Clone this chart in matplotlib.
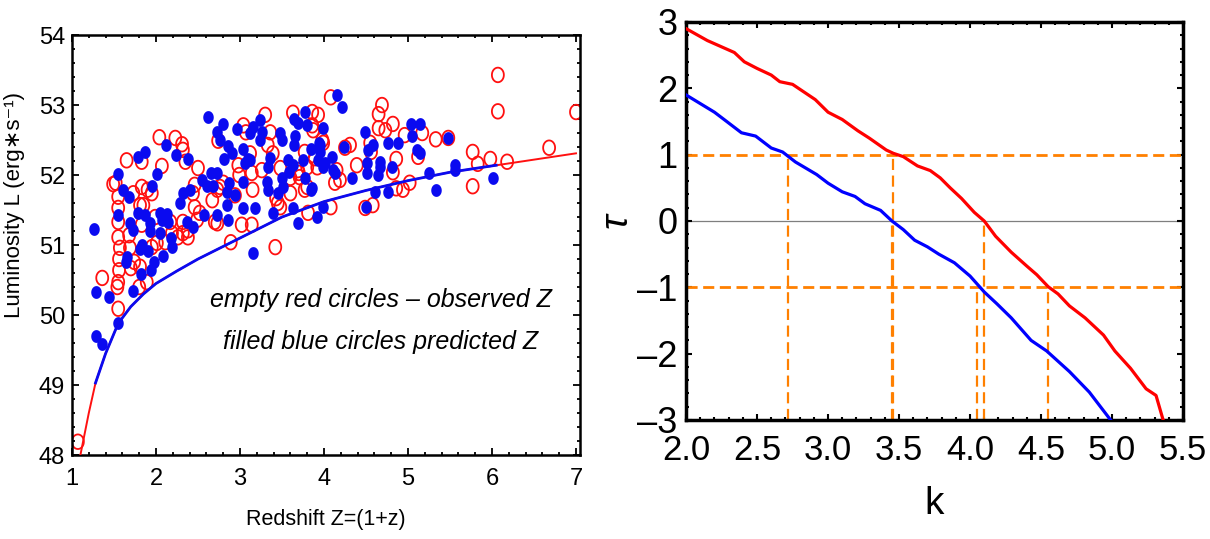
import numpy as np
import matplotlib
matplotlib.use("Agg")
import matplotlib.pyplot as plt
from matplotlib.path import Path
from matplotlib.ticker import MultipleLocator

FAMILY = ["Liberation Sans", "DejaVu Sans"]
plt.rcParams["font.family"] = FAMILY

# ---------------- Luminosity vs redshift: GRB sample ----------------
z_observed = [1.07, 1.36, 1.54, 1.55, 1.55, 1.56, 1.56, 1.57, 1.55, 1.68, 1.69, 1.70, 1.74,
              1.81, 1.89, 1.80, 1.83, 1.85, 1.95, 2.01, 2.11, 2.19, 2.17, 2.26, 2.32, 2.38,
              2.38, 2.32, 2.46, 2.52, 2.70, 2.89, 3.02, 1.49, 1.52, 1.55, 1.55, 1.55, 1.65,
              1.83, 1.83, 1.90, 1.95, 1.73, 1.81, 1.99, 2.04, 2.23, 2.31, 2.32, 2.07, 2.35,
              2.50, 2.46, 2.44, 2.49, 2.73, 2.67, 2.73, 2.76, 2.80, 2.94, 2.74, 2.98, 2.99,
              3.04, 3.07, 3.14, 3.26, 3.30, 3.36, 3.33, 3.39, 3.12, 3.48, 3.42, 3.45, 3.14,
              3.48, 3.43, 3.60, 3.60, 3.63, 3.69, 3.71, 3.80, 3.86, 3.93, 3.86, 3.87, 3.77,
              3.98, 3.92, 3.80, 3.81, 3.70, 4.08, 3.99, 3.89, 3.77, 4.15, 4.19, 4.13, 4.25,
              4.31, 4.39, 4.08, 4.69, 4.65, 4.65, 4.73, 4.82, 4.55, 4.56, 4.86, 4.96, 5.17,
              5.12, 5.33, 5.48, 4.86, 4.94, 5.02, 4.49, 4.58, 4.82, 5.77, 5.83, 5.98, 6.18,
              5.77, 6.07, 6.07, 6.68, 7.00, 3.15]
L_observed = [48.19, 50.53, 50.40, 50.09, 50.47, 50.64, 50.80, 50.96, 51.11, 51.14, 50.96,
              50.67, 50.76, 50.69, 50.47, 50.40, 51.29, 51.57, 50.97, 51.03, 51.04, 51.17,
              51.33, 51.11, 51.17, 51.11, 51.21, 51.33, 51.54, 51.46, 51.33, 51.04, 51.29,
              51.87, 51.89, 51.69, 51.53, 51.33, 52.21, 52.19, 51.83, 51.79, 51.74, 51.74,
              51.57, 51.40, 52.54, 52.53, 52.44, 52.36, 52.13, 52.19, 52.10, 51.86, 51.74,
              51.36, 51.79, 51.64, 51.31, 51.83, 51.89, 51.71, 52.49, 52.14, 52.00, 52.71,
              52.61, 52.03, 52.07, 52.86, 52.61, 52.43, 52.31, 52.31, 52.10, 50.97, 51.60,
              51.29, 51.54, 51.67, 51.96, 51.74, 52.89, 52.07, 51.97, 52.11, 52.90, 52.86,
              52.71, 52.64, 52.33, 52.50, 52.11, 51.83, 51.46, 52.03, 53.11, 52.46, 52.24,
              51.79, 52.07, 51.93, 51.89, 52.39, 52.43, 52.14, 51.54, 53.00, 52.87, 52.67,
              52.64, 52.73, 52.46, 52.33, 52.23, 52.57, 52.60, 52.26, 52.51, 52.53, 51.81,
              51.79, 51.89, 51.53, 51.57, 52.04, 52.33, 52.16, 52.23, 52.19, 51.84, 52.91,
              53.43, 52.39, 52.90, 51.79]

z_predicted = [1.26, 1.29, 1.29, 1.36, 1.44, 1.55, 1.55, 1.61, 1.68, 1.55, 1.69, 1.73, 1.79,
               1.87, 1.93, 2.05, 2.13, 2.14, 2.07, 1.95, 2.01, 1.79, 1.87, 2.12, 2.24, 2.38,
               1.65, 1.64, 1.81, 1.83, 1.90, 1.73, 1.82, 1.94, 1.98, 2.08, 2.19, 2.18, 2.05,
               1.93, 2.29, 2.37, 2.44, 2.32, 2.40, 2.55, 2.65, 2.73, 2.61, 2.68, 2.57, 2.73,
               2.85, 2.86, 3.04, 2.87, 2.85, 2.94, 2.62, 2.80, 2.73, 2.96, 2.76, 2.86, 2.90,
               2.81, 3.04, 3.06, 3.10, 3.04, 3.15, 3.15, 3.24, 3.26, 3.24, 3.12, 3.12, 3.36,
               3.33, 3.32, 3.33, 3.48, 3.50, 3.50, 3.51, 3.45, 3.57, 3.63, 3.58, 3.64, 3.69,
               3.77, 3.80, 3.65, 3.64, 3.75, 3.77, 3.85, 3.95, 3.95, 3.93, 3.99, 3.99, 3.86,
               4.10, 4.11, 4.13, 4.15, 4.21, 4.24, 4.33, 4.49, 4.58, 4.52, 4.51, 4.51, 4.67,
               4.67, 4.64, 4.61, 4.50, 4.76, 4.88, 4.81, 4.76, 5.04, 5.14, 5.05, 5.11, 5.14,
               5.25, 5.33, 5.48, 5.56, 5.56, 6.01, 3.92, 3.99, 3.69, 3.39, 3.63, 3.18, 3.85,
               3.94, 4.01]
L_predicted = [51.23, 50.33, 49.70, 49.59, 50.26, 49.89, 52.01, 51.79, 51.69, 51.43, 51.31,
               51.21, 51.46, 51.43, 51.31, 51.46, 51.44, 51.33, 51.36, 51.84, 52.01, 52.26,
               52.33, 52.43, 52.29, 52.23, 50.83, 50.76, 50.94, 51.00, 50.91, 50.34, 50.59,
               50.64, 50.76, 50.84, 50.97, 51.10, 51.17, 51.20, 51.60, 51.33, 51.26, 51.74,
               51.79, 51.93, 52.03, 52.03, 51.84, 51.84, 51.43, 51.43, 51.57, 51.36, 51.53,
               51.89, 51.76, 51.71, 52.83, 52.73, 52.61, 52.66, 52.50, 52.41, 52.31, 52.23,
               52.37, 52.17, 52.23, 51.90, 50.89, 52.69, 52.79, 52.61, 52.50, 52.60, 52.21,
               52.24, 52.11, 51.90, 51.79, 52.60, 52.50, 51.96, 51.83, 51.74, 52.21, 52.14,
               52.04, 52.80, 52.74, 52.90, 52.71, 52.56, 52.43, 52.21, 51.96, 52.37, 52.43,
               52.33, 52.21, 52.11, 52.67, 51.81, 52.26, 52.07, 52.03, 53.14, 52.97, 52.40,
               51.96, 52.61, 52.43, 52.36, 52.17, 52.03, 52.19, 52.11, 52.00, 51.76, 51.54,
               52.46, 52.46, 52.11, 51.76, 52.73, 52.73, 52.56, 52.36, 52.31, 52.03, 51.79,
               52.53, 52.14, 52.07, 51.96, 51.40, 51.54, 51.31, 51.46, 51.53, 51.53, 51.79,
               52.46, 52.17]

# Flux-limit threshold curves
z_limit_obs = [1.10, 1.15, 1.20, 1.28, 1.40, 1.55, 1.70, 1.85, 2.00, 2.25, 2.50, 2.75, 3.00,
               3.50, 4.00, 4.50, 5.00, 5.50, 6.00, 6.50, 7.00]
L_limit_obs = [48.00, 48.30, 48.60, 49.03, 49.45, 49.88, 50.12, 50.30, 50.45, 50.63, 50.80,
               50.95, 51.10, 51.40, 51.62, 51.78, 51.92, 52.04, 52.13, 52.22, 52.31]
z_limit_pred = [1.28, 1.40, 1.55, 1.70, 1.85, 2.00, 2.25, 2.50, 2.75, 3.00, 3.50, 4.00, 4.50,
                5.00, 5.50, 6.05]
L_limit_pred = [49.03, 49.45, 49.88, 50.12, 50.30, 50.45, 50.63, 50.80, 50.95, 51.10, 51.40,
                51.62, 51.78, 51.92, 52.04, 52.14]

# ---------------- Kendall tau statistic vs k ----------------
k_obs = [2.00, 2.15, 2.34, 2.41, 2.50, 2.60, 2.66, 2.75, 2.91, 3.00, 3.10, 3.21, 3.29, 3.41,
         3.46, 3.53, 3.63, 3.72, 3.79, 3.86, 3.94, 4.03, 4.10, 4.18, 4.29, 4.40, 4.47, 4.55,
         4.62, 4.70, 4.81, 4.94, 5.02, 5.13, 5.24, 5.31, 5.36]
tau_obs = [2.90, 2.72, 2.54, 2.40, 2.30, 2.20, 2.10, 2.06, 1.83, 1.64, 1.53, 1.36, 1.25,
           1.07, 1.02, 0.97, 0.83, 0.76, 0.65, 0.50, 0.34, 0.13, 0.00, -0.23, -0.47, -0.68,
           -0.81, -0.99, -1.10, -1.28, -1.46, -1.72, -1.96, -2.22, -2.53, -2.63, -3.00]
k_pred = [2.00, 2.10, 2.20, 2.28, 2.39, 2.49, 2.60, 2.68, 2.77, 2.92, 3.00, 3.10, 3.19, 3.26,
          3.37, 3.45, 3.53, 3.61, 3.70, 3.78, 3.89, 4.00, 4.10, 4.19, 4.29, 4.43, 4.54, 4.70,
          4.84, 4.99]
tau_pred = [1.90, 1.77, 1.64, 1.51, 1.33, 1.28, 1.10, 1.04, 0.89, 0.70, 0.57, 0.44, 0.37,
            0.26, 0.16, 0.00, -0.13, -0.29, -0.39, -0.50, -0.63, -0.83, -1.07, -1.25, -1.46,
            -1.80, -1.96, -2.27, -2.58, -3.00]

tau_levels = [1, -1]
k_guides = [2.72, 3.46, 3.45, 4.05, 4.10, 4.55]
tau_guide_tops = [1, 1, 0, -1, 0, -1]

# ---------------- figure ----------------
fig = plt.figure(figsize=(12.1, 5.39), dpi=100)

theta = np.linspace(0, 2 * np.pi, 64)
oval = Path(np.column_stack([0.82 * np.cos(theta), np.sin(theta)]), closed=True)

ax1 = fig.add_axes([0.0595, 0.1558, 0.42, 0.7792])
ax1.scatter(z_observed, L_observed, marker=oval, s=110, facecolors="none",
            edgecolors="#FF1010", linewidths=1.3, zorder=2)
ax1.scatter(z_predicted, L_predicted, marker=oval, s=85, color="#0A0AF0",
            linewidths=0, zorder=3)
ax1.plot(z_limit_obs, L_limit_obs, color="#FF1010", lw=1.4, zorder=4)
ax1.plot(z_limit_pred, L_limit_pred, color="#0A0AF0", lw=2.0, zorder=5)
ax1.set_xlim(1, 7.05)
ax1.set_ylim(48, 54)
ax1.xaxis.set_major_locator(MultipleLocator(1))
ax1.xaxis.set_minor_locator(MultipleLocator(0.2))
ax1.yaxis.set_major_locator(MultipleLocator(1))
ax1.yaxis.set_minor_locator(MultipleLocator(0.2))
ax1.tick_params(which="both", direction="in", top=True, right=True, width=1.3)
ax1.tick_params(axis="y", labelsize=17, pad=5)
ax1.tick_params(axis="x", labelsize=17, pad=9)
ax1.tick_params(which="major", length=5)
ax1.tick_params(which="minor", length=2.5)
for sp in ax1.spines.values():
    sp.set_linewidth(1.8)
ax1.set_xlabel("Redshift Z=(1+z)", fontsize=15.5, labelpad=14)
ax1.set_ylabel("Luminosity L (erg\u2217s\u207b\u00b9)", fontsize=16)
ax1.yaxis.set_label_coords(-0.092, 0.595)
ax1.text(0.608, 0.369, "empty red circles \u2013 observed Z", transform=ax1.transAxes,
         ha="center", va="center", fontsize=18, style="italic")
ax1.text(0.608, 0.269, "filled blue circles predicted Z", transform=ax1.transAxes,
         ha="center", va="center", fontsize=18, style="italic")

ax2 = fig.add_axes([0.567, 0.2208, 0.4107, 0.7384])
ax2.axhline(0, color="#7F7F7F", lw=0.9, zorder=1)
orange = "#FF8000"
for lvl in tau_levels:
    ax2.axhline(lvl, color=orange, lw=2.0, linestyle=(0, (4, 2)), zorder=2)
for kg, top in zip(k_guides, tau_guide_tops):
    ax2.plot([kg, kg], [-3, top], color=orange, lw=1.6, linestyle=(0, (5, 2.5)), zorder=2)
ax2.plot(k_obs, tau_obs, color="#FF0000", lw=2.3, zorder=3)
ax2.plot(k_pred, tau_pred, color="#0000FF", lw=2.3, zorder=3)
ax2.set_xlim(2, 5.5)
ax2.set_ylim(-3, 3)
ax2.xaxis.set_major_locator(MultipleLocator(0.5))
ax2.xaxis.set_minor_locator(MultipleLocator(0.1))
ax2.yaxis.set_major_locator(MultipleLocator(1))
ax2.yaxis.set_minor_locator(MultipleLocator(0.2))
ax2.xaxis.set_major_formatter(plt.FuncFormatter(lambda v, p: f"{v:.1f}"))
ax2.yaxis.set_major_formatter(plt.FuncFormatter(lambda v, p: f"{v:.0f}".replace("-", "\u2013")))
ax2.tick_params(which="both", direction="in", top=True, right=True, width=1.5)
ax2.tick_params(axis="x", labelsize=25, pad=10)
ax2.tick_params(axis="y", labelsize=26, pad=6)
ax2.tick_params(which="major", length=4)
ax2.tick_params(which="minor", length=2)
for sp in ax2.spines.values():
    sp.set_linewidth(2.5)
ax2.set_xlabel("k", fontsize=28, labelpad=14)
ax2.set_ylabel("\u03c4", fontsize=28, labelpad=2, style="italic")

fig.savefig("out.png", dpi=100)
